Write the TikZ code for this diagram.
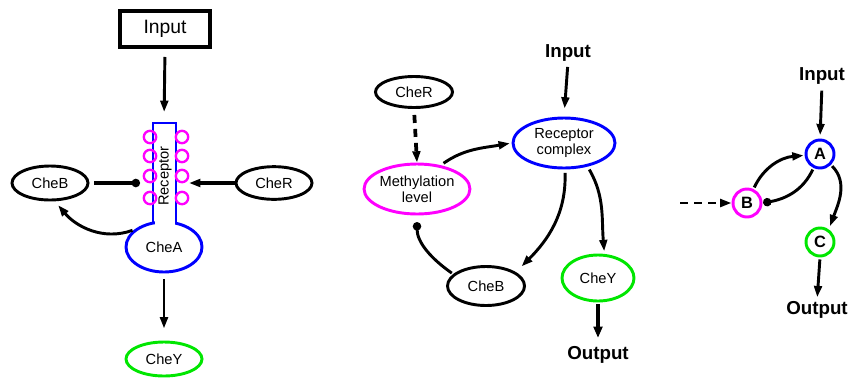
\documentclass[tikz,border=0pt]{standalone}
\usepackage{fontspec}
\setmainfont{Liberation Sans}
\usetikzlibrary{arrows.meta,shapes.geometric}
\definecolor{mag}{RGB}{255,0,255}
\definecolor{grn}{RGB}{0,230,0}
\definecolor{blu}{RGB}{0,0,255}
\begin{document}
\begin{tikzpicture}[
		x=0.3mm, y=-0.3mm,
		every node/.style={font=\fontsize{12.5}{13.5}\selectfont, inner sep=0pt},
		oval/.style={ellipse, draw, line width=2.5pt, align=center},
		dot/.style={circle, draw, line width=2.5pt, minimum size=8.4mm, font=\fontsize{14}{16}\selectfont\bfseries},
		lab/.style={font=\fontsize{16}{18}\selectfont\bfseries},
		arr/.style={line width=2.5pt, -{Triangle[length=3.4mm,width=2.3mm]}},
		inh/.style={line width=2.5pt, -{Circle[length=2.5mm]}},
		dsh/.style={arr, dash pattern=on 2.4mm off 1.8mm},
		fat/.style={line width=4pt, -{Triangle[length=3.4mm,width=2.6mm]}}
	]
	\useasboundingbox (0,0) rectangle (852,379);

	% left: cartoon of the receptor
	\node[draw, line width=3.4pt, minimum width=27mm, minimum height=10.8mm,
		font=\fontsize{16.5}{18}\selectfont] (in1) at (165,29) {Input};
	\node[oval, draw=blu, minimum width=22.8mm, minimum height=15mm] (cha) at (164,247) {CheA};
	\fill[white] (154.5,120) rectangle (174.5,228);
	\draw[blu, line width=2.5pt] (153,224) -- (153,123) -- (176,123) -- (176,224);
	\foreach \y in {137,156,176,198} {
		\draw[mag, line width=2pt] (150,\y) circle[radius=6.2];
		\draw[mag, line width=2pt] (182,\y) circle[radius=6.2];
	}
	\node[rotate=90] (rec) at (165,176) {Receptor};
	\coordinate (rtop) at (164,123);
	\coordinate (rl) at (140,183);
	\coordinate (rr) at (189,183);
	\node[oval, minimum width=22.8mm, minimum height=10.2mm] (cb1) at (50,183) {CheB};
	\node[oval, minimum width=22.8mm, minimum height=9.8mm] (cr1) at (274,183) {CheR};
	\node[oval, draw=grn, minimum width=22.8mm, minimum height=10.2mm] (cy1) at (164,359) {CheY};

	\draw[arr, shorten <=2.4mm, shorten >=3.3mm] (in1.south) -- (rtop);
	\draw[inh, line width=3.2pt, shorten <=1.5mm] (cb1.east) -- (rl);
	\draw[arr, line width=3.2pt] (cr1.west) -- (rr);
	\draw[arr, shorten <=0.5mm, shorten >=1.5mm] (cha.150) to[out=200,in=-50] (cb1.-75);
	\draw[arr, shorten <=1.8mm, shorten >=3.6mm] (cha.south) -- (cy1.north);

	% middle: the loop
	\node[lab] (in2) at (568,53) {Input};
	\node[oval, draw=blu, minimum width=30.6mm, minimum height=15mm] (rc) at (564,143) {Receptor\\complex};
	\node[oval, minimum width=23.1mm, minimum height=9.3mm] (cr2) at (414,92) {CheR};
	\node[oval, draw=mag, minimum width=31.2mm, minimum height=15mm] (ml) at (417,189) {Methylation\\level};
	\node[oval, minimum width=23.1mm, minimum height=11.7mm] (cb2) at (486,286) {CheB};
	\node[oval, draw=grn, minimum width=21.6mm, minimum height=13.8mm] (cy2) at (598,278) {CheY};
	\node[lab] (out2) at (598,355) {Output};

	\draw[arr, shorten <=1.6mm, shorten >=2.4mm] (in2.south) -- (rc.north);
	\draw[dsh, line width=3.2pt, shorten <=1.8mm] (cr2.south) -- (ml.north);
	\draw[arr, shorten <=1mm, shorten >=0.5mm] (ml.45) to[out=35,in=190] (rc.west);
	\draw[arr, shorten <=1mm, shorten >=2.4mm] (rc.-88) to[out=-88,in=45] (cb2.25);
	\draw[arr, shorten <=1mm, shorten >=0.8mm] (rc.-45) to[out=-60,in=95] (cy2.75);
	\draw[inh, shorten <=0.5mm, shorten >=2mm] (cb2.160) to[out=145,in=-90] (ml.south);
	\draw[fat, shorten <=0.6mm, shorten >=2.5mm] (cy2.south) -- (out2.north);

	% right: the abstract network
	\node[lab] (in3) at (822,76) {Input};
	\node[dot, draw=blu] (a) at (820,154) {A};
	\node[dot, draw=mag] (b) at (747,203) {B};
	\node[dot, draw=grn] (c) at (820,242) {C};
	\node[lab] (out3) at (817,310) {Output};
	\coordinate (bin) at (680,203);

	\draw[arr, shorten <=1.8mm, shorten >=1mm] (in3.south) -- (a.north);
	\draw[dsh] (bin) -- (b.west);
	\draw[arr, shorten <=0.5mm, shorten >=0.3mm] (b.65) to[out=65,in=185] (a.185);
	\draw[inh, shorten <=0.5mm, shorten >=0.2mm] (a.-115) to[out=-115,in=10] (b.east);
	\draw[arr, shorten <=0.5mm, shorten >=1mm] (a.-45) to[out=-45,in=70] (c.55);
	\draw[arr, shorten <=0.6mm, shorten >=1.2mm] (c.south) -- (out3.north);
\end{tikzpicture}
\end{document}
